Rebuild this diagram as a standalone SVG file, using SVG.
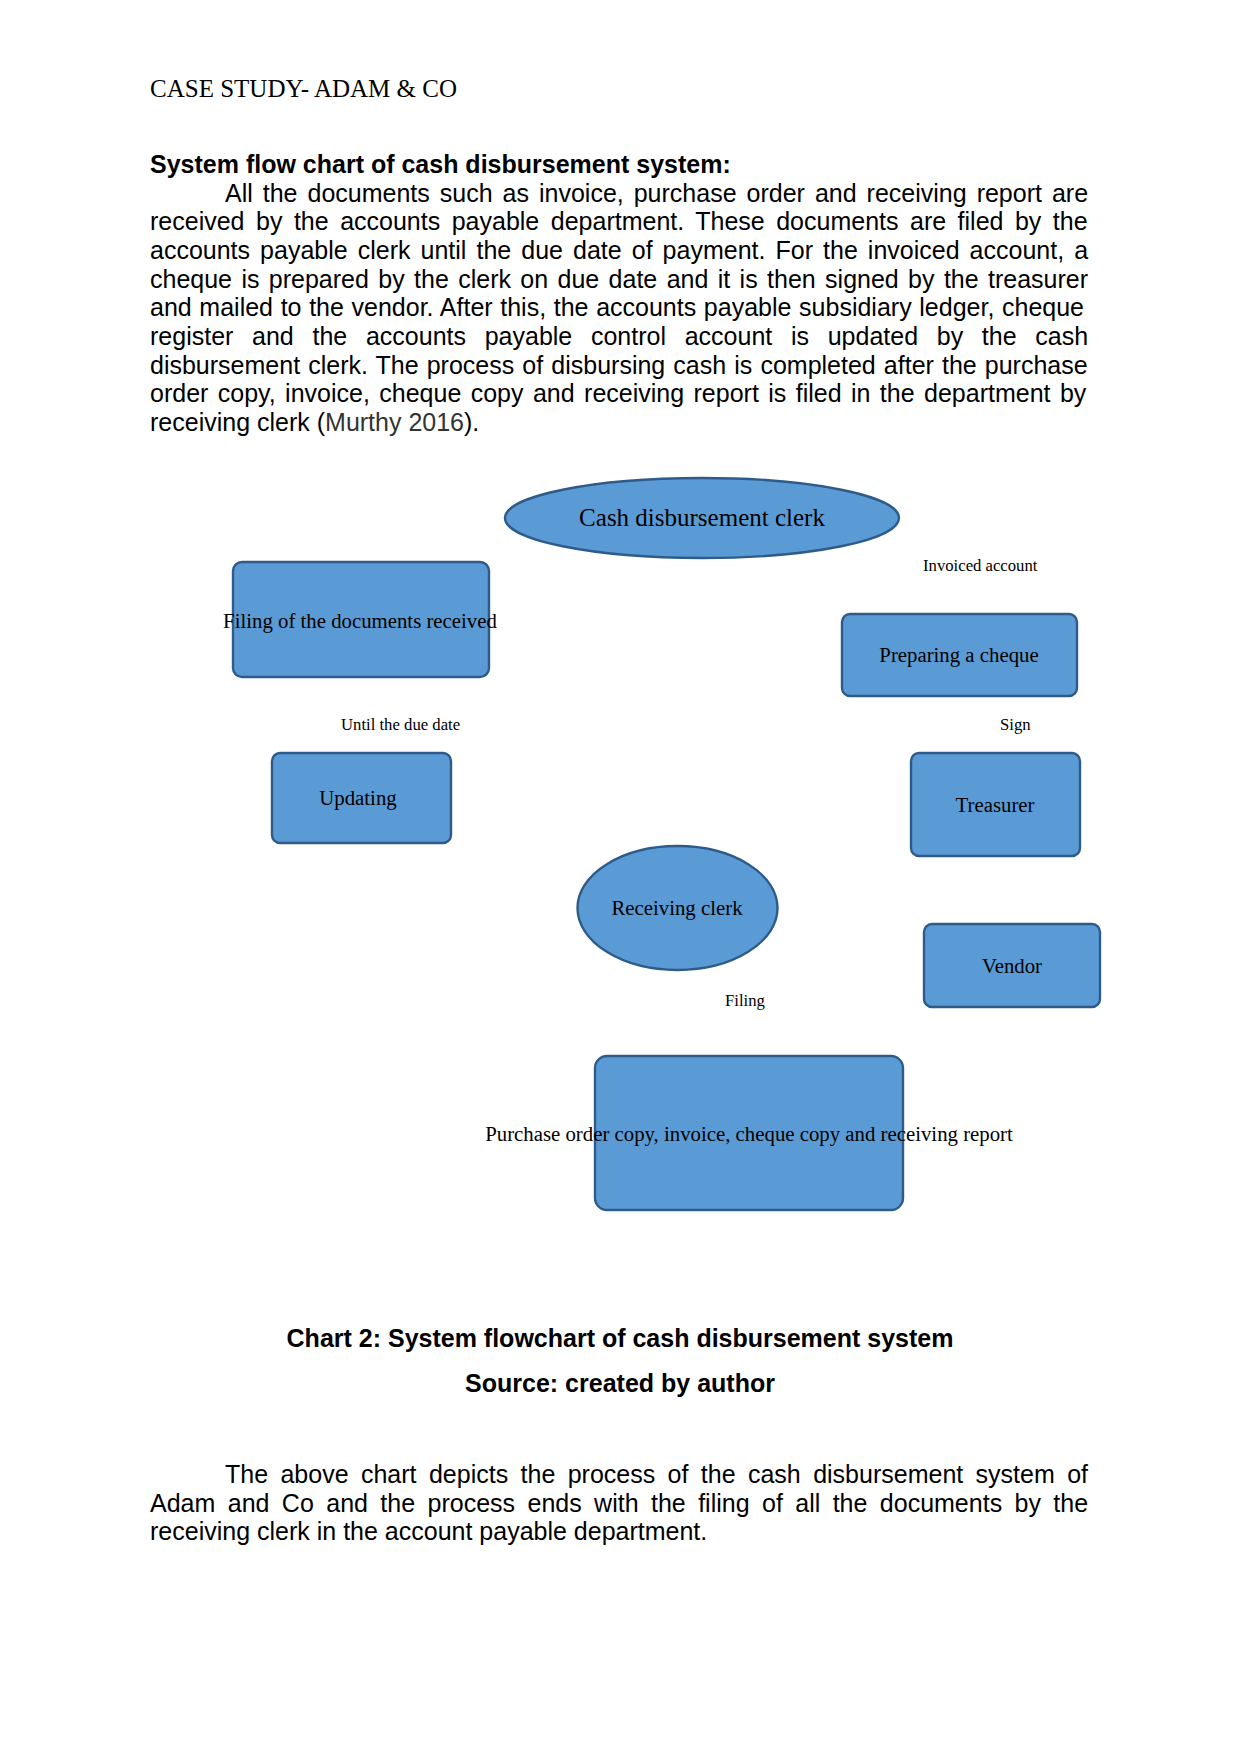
<svg xmlns="http://www.w3.org/2000/svg" width="1241" height="1754" viewBox="0 0 1241 1754">
<style>
.hdr{font-family:"Liberation Serif",serif;font-size:25px;fill:#000}
.body{font-family:"Liberation Sans",Arial,sans-serif;font-size:25px;fill:#000}
.bold{font-family:"Liberation Sans",Arial,sans-serif;font-size:25px;font-weight:bold;fill:#000}
.shape{fill:#5b9bd5;stroke:#2e5b8a;stroke-width:2.4}
.nt{font-family:"Liberation Serif",serif;font-size:20.8px;fill:#000;text-anchor:middle}
.big{font-family:"Liberation Serif",serif;font-size:25px;fill:#000;text-anchor:middle}
.lbl{font-family:"Liberation Serif",serif;font-size:16.7px;fill:#000}
</style>
<rect width="1241" height="1754" fill="#fff"/>
<text class="hdr" x="150" y="97">CASE STUDY- ADAM &amp; CO</text>
<text class="bold" x="150" y="172.5">System flow chart of cash disbursement system:</text>
<g class="body">
<text x="225" y="201.5" word-spacing="3.04">All the documents such as invoice, purchase order and receiving report are</text>
<text x="150" y="230.2" word-spacing="4.55">received by the accounts payable department. These documents are filed by the</text>
<text x="150" y="258.9" word-spacing="3.1">accounts payable clerk until the due date of payment. For the invoiced account, a</text>
<text x="150" y="287.6" word-spacing="2.43">cheque is prepared by the clerk on due date and it is then signed by the treasurer</text>
<text x="150" y="316.3" word-spacing="0.7">and mailed to the vendor. After this, the accounts payable subsidiary ledger, cheque</text>
<text x="150" y="345" word-spacing="11.75">register and the accounts payable control account is updated by the cash</text>
<text x="150" y="373.7" word-spacing="1.15">disbursement clerk. The process of disbursing cash is completed after the purchase</text>
<text x="150" y="402.4" word-spacing="2.47">order copy, invoice, cheque copy and receiving report is filed in the department by</text>
<text x="150" y="431.1">receiving clerk (<tspan fill="#333">Murthy 2016</tspan>).</text>
</g>
<g id="connectors"></g>
<g id="node-cash-clerk">
<ellipse class="shape" cx="702" cy="518" rx="197" ry="40"/>
<text class="big" x="702" y="526">Cash disbursement clerk</text>
</g>
<g id="node-filing-docs">
<rect class="shape" x="233" y="562" width="256" height="115" rx="9"/>
<text class="nt" x="360" y="628">Filing of the documents received</text>
</g>
<g id="node-preparing-cheque">
<rect class="shape" x="842" y="614" width="235" height="82" rx="8"/>
<text class="nt" x="959" y="662">Preparing a cheque</text>
</g>
<g id="node-updating">
<rect class="shape" x="272" y="753" width="179" height="90" rx="8"/>
<text class="nt" x="358" y="805">Updating</text>
</g>
<g id="node-treasurer">
<rect class="shape" x="911" y="753" width="169" height="103" rx="8"/>
<text class="nt" x="995" y="812">Treasurer</text>
</g>
<g id="node-receiving-clerk">
<ellipse class="shape" cx="677.5" cy="908" rx="100" ry="62"/>
<text class="nt" x="677" y="915">Receiving clerk</text>
</g>
<g id="node-vendor">
<rect class="shape" x="924" y="924" width="176" height="83" rx="8"/>
<text class="nt" x="1012" y="973">Vendor</text>
</g>
<g id="node-documents">
<rect class="shape" x="595" y="1056" width="308" height="154" rx="12"/>
<text class="nt" x="749" y="1141">Purchase order copy, invoice, cheque copy and receiving report</text>
</g>
<g id="labels">
<text class="lbl" x="923" y="571">Invoiced account</text>
<text class="lbl" x="341" y="730">Until the due date</text>
<text class="lbl" x="1000" y="730">Sign</text>
<text class="lbl" x="725" y="1006">Filing</text>
</g>
<text class="bold" x="620" y="1347" text-anchor="middle">Chart 2: System flowchart of cash disbursement system</text>
<text class="bold" x="620" y="1392" text-anchor="middle">Source: created by author</text>
<g class="body">
<text x="225" y="1483" word-spacing="5.44">The above chart depicts the process of the cash disbursement system of</text>
<text x="150" y="1511.7" word-spacing="5.47">Adam and Co and the process ends with the filing of all the documents by the</text>
<text x="150" y="1540.4">receiving clerk in the account payable department.</text>
</g>
</svg>
